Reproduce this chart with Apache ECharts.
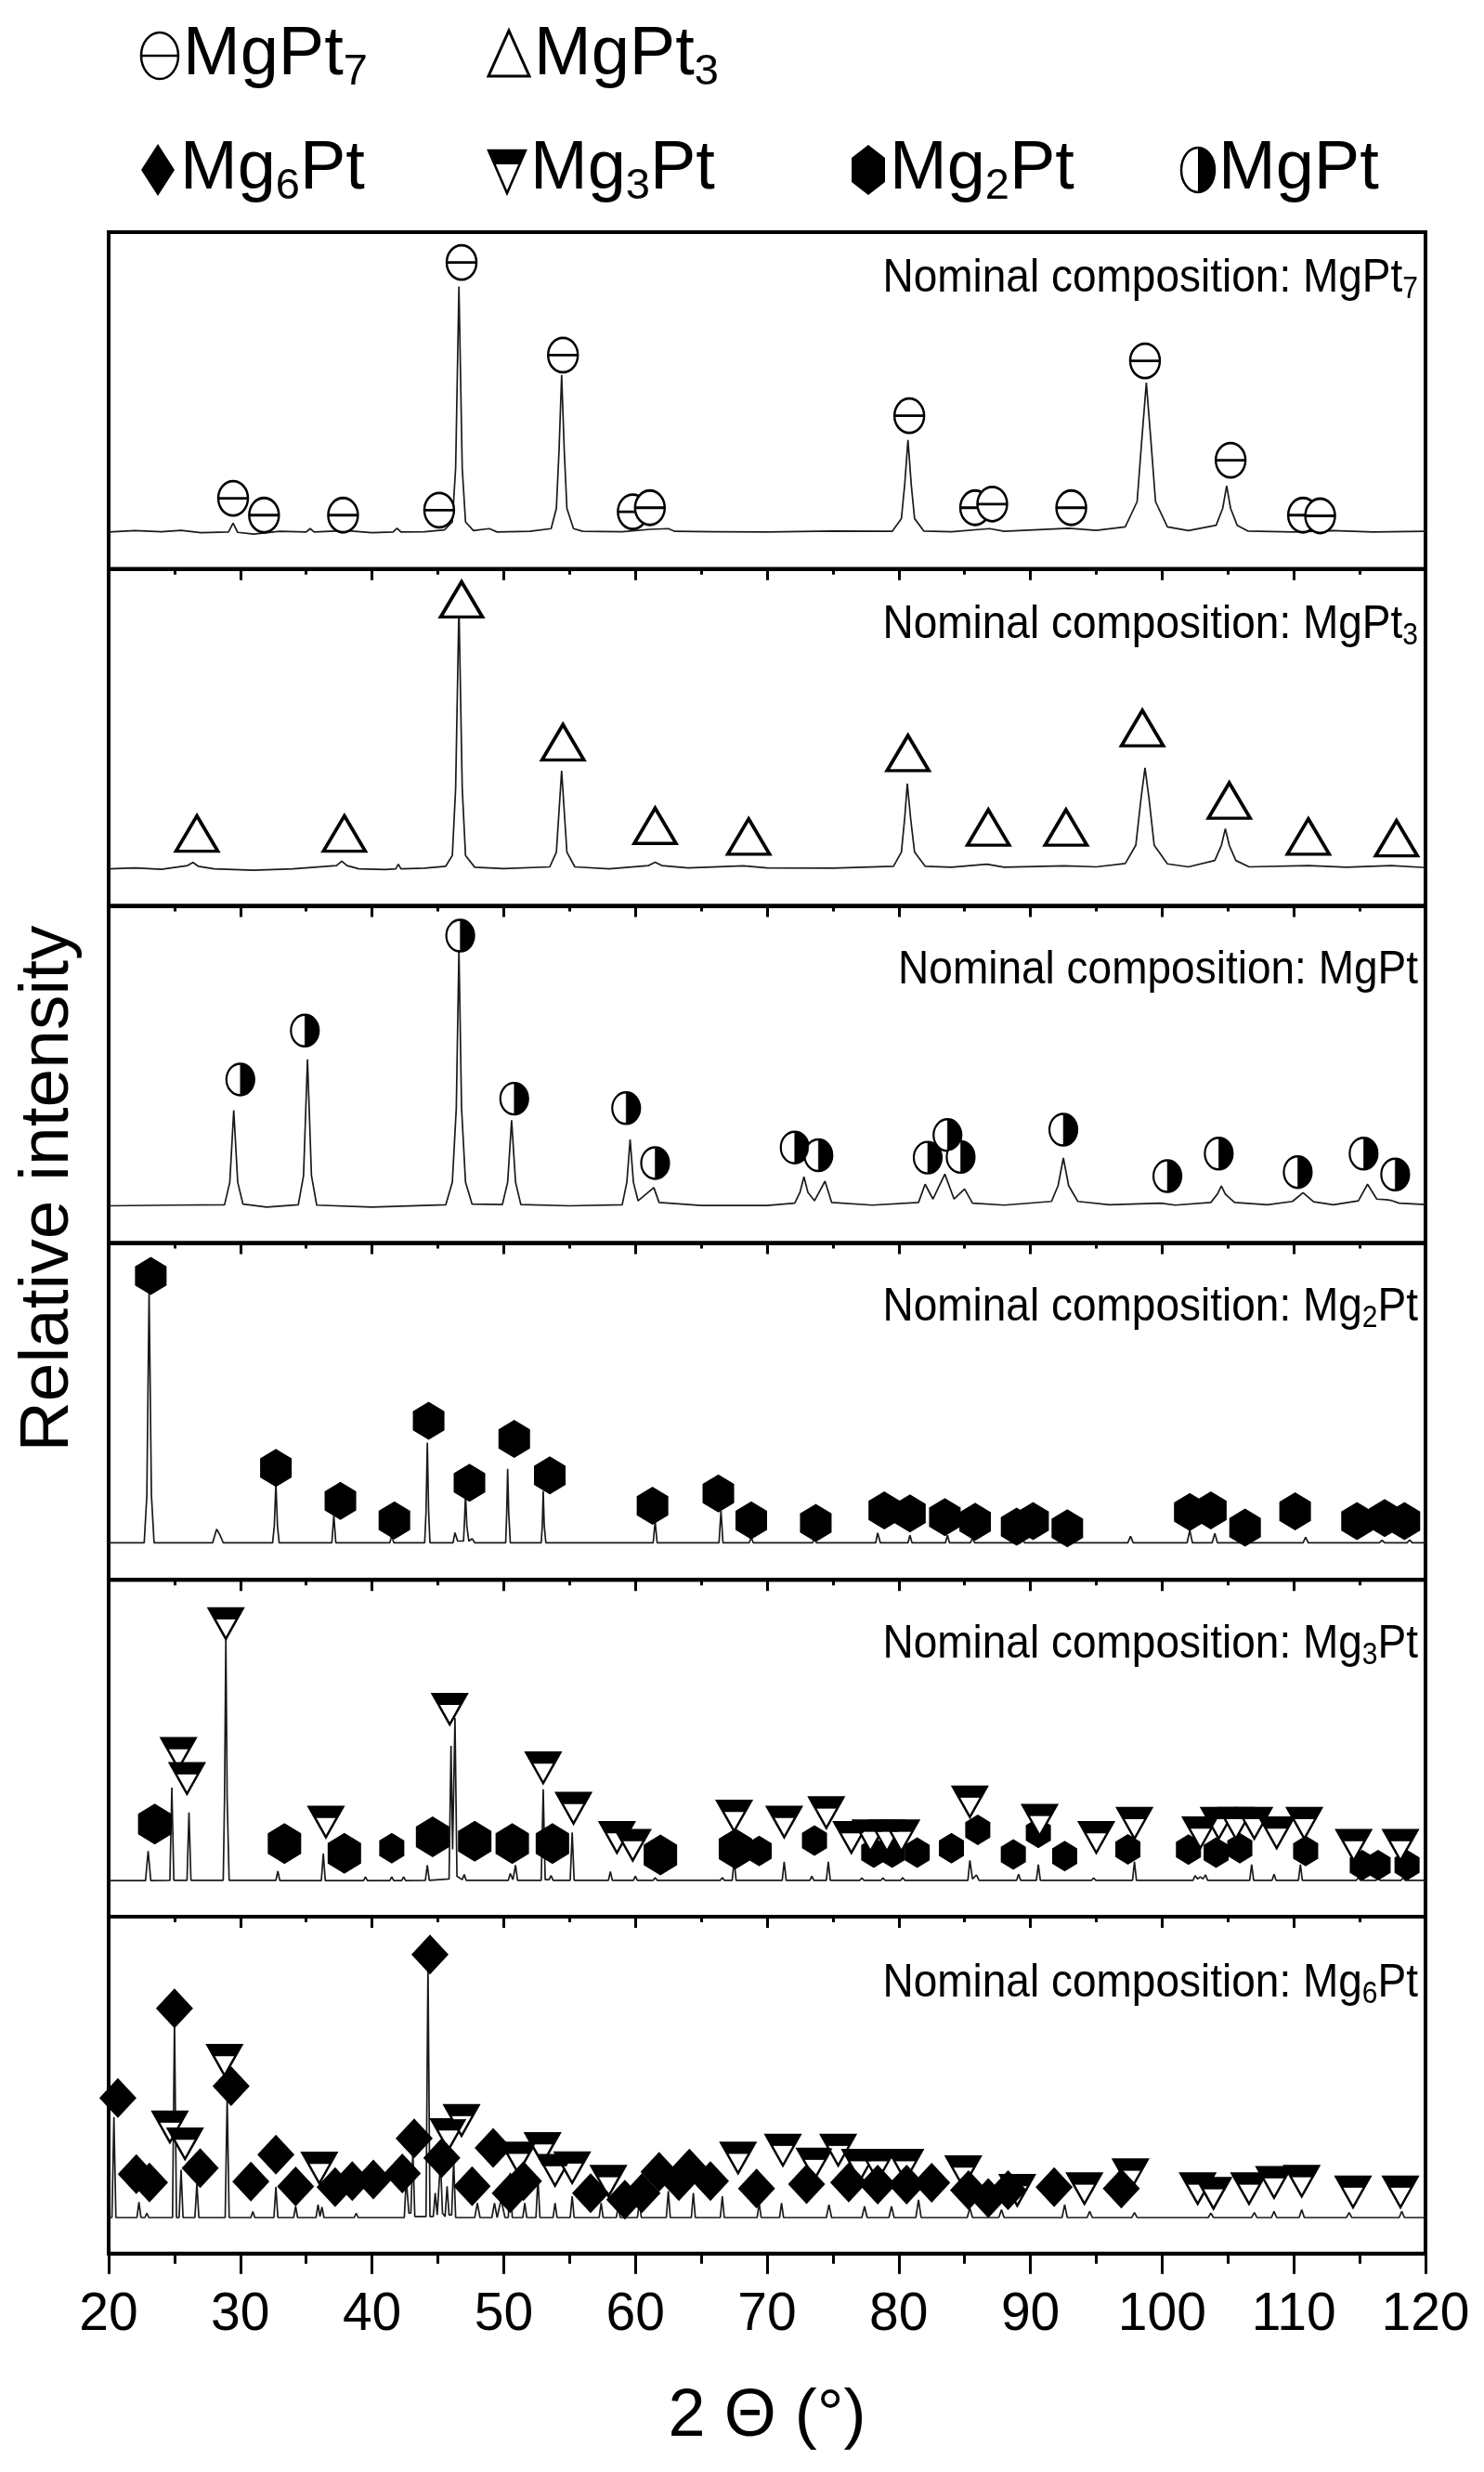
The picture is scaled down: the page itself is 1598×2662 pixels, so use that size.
<!DOCTYPE html>
<html><head><meta charset="utf-8">
<script src="https://cdn.jsdelivr.net/npm/echarts@6/dist/echarts.min.js"></script>
<style>html,body{margin:0;padding:0;background:#fff}#c{width:1598px;height:2662px}</style>
</head><body><div id="c"></div>
<script>
// ---------- tick labels ----------
const xTickLabels = [20, 30, 40, 50, 60, 70, 80, 90, 100, 110, 120];

// ---------- measured XRD profiles: [2theta, relative intensity %] ----------
const patternMgPt7 = [[20,11],[22,11.4],[24,11.1],[25.5,11.5],[27,10.8],[29.1,11],[29.45,13.6],[29.8,10.9],[31,10.4],[33,11.2],[35,11],[35.3,12],[35.6,11],[38,11.4],[40,10.8],[41.6,11],[41.9,12.1],[42.2,11],[44,11.1],[45.5,11.6],[46.1,14],[46.35,30],[46.6,83.9],[46.85,30],[47.1,14],[47.7,11.4],[48.9,12],[49.5,11],[52,11.2],[53.6,12],[54.0,18],[54.2,35],[54.4,57.6],[54.6,35],[54.8,18],[55.3,12],[56,11.2],[59,11.1],[61.1,11.8],[62.5,12],[63,11.2],[66,11.1],[70,11],[75,11.3],[79.5,11.2],[80.2,15],[80.45,25],[80.7,38.3],[80.95,25],[81.2,15],[81.9,11.3],[84,11.1],[86.9,12],[88,11.2],[92.9,12.1],[95,11.5],[97.2,12.5],[98.1,20],[98.45,38],[98.8,55.3],[99.15,38],[99.5,20],[100.4,12.5],[102,11.4],[104.1,13],[104.6,18],[104.9,24.7],[105.2,18],[105.7,13],[106.5,11.3],[110,11],[113,11.4],[116,11],[120,11.2]];
const patternMgPt3 = [[20,11],[22,11.3],[24,10.9],[26,12],[26.4,12.9],[26.8,11.8],[28,11],[31,10.6],[34,11],[37.3,12],[37.7,13.3],[38.1,12],[39,11],[41,10.8],[41.8,11],[42.0,12.4],[42.2,11],[44,11.2],[45.6,11.8],[46.1,15],[46.35,35],[46.6,89.1],[46.85,35],[47.1,15],[47.8,11.5],[50,11.1],[53.5,11.6],[54.0,16],[54.2,28],[54.4,40.1],[54.6,28],[54.8,16],[55.4,11.6],[58,11],[61.0,12],[61.5,13],[62,12],[64,11.3],[68.2,11.9],[70,11.3],[75,11.2],[79.6,11.8],[80.2,16],[80.45,26],[80.65,36.3],[80.9,26],[81.2,16],[82,11.8],[84,11.5],[86.7,12.4],[88,11.5],[92.6,11.9],[95,11.6],[97.2,12.6],[98.0,18],[98.4,32],[98.7,41],[99.0,32],[99.4,18],[100.4,12.5],[102,11.6],[104.0,13.5],[104.5,18],[104.8,22.9],[105.1,18],[105.6,13.5],[106.6,11.6],[111.1,12],[114,11.5],[117.4,12],[120,11.4]];
const patternMgPt = [[20,11],[25,11.2],[28.8,11.3],[29.2,18],[29.5,39.4],[29.8,18],[30.2,11.5],[32,10.6],[34.4,11.3],[34.8,20],[35.1,54.5],[35.4,20],[35.8,11.2],[40,10.6],[45.6,11.3],[46.1,18],[46.4,40],[46.6,87.1],[46.8,40],[47.1,18],[47.6,11.5],[49.9,11.4],[50.3,18],[50.6,36.4],[50.9,18],[51.3,11.4],[55,11],[59,11.3],[59.35,18],[59.6,30.7],[59.85,18],[60.2,12.5],[61.4,16.4],[61.8,12],[65,11.1],[70,11.1],[72.1,11.8],[72.5,15],[72.8,19.6],[73.1,15],[73.6,12.5],[74.4,18.3],[74.9,12],[78,11.2],[81.5,12],[82.0,17.4],[82.6,13],[83.5,20.4],[84.2,13],[85.0,16],[85.6,11.8],[88,11.2],[91.6,12.3],[92.1,17],[92.5,25.2],[92.9,17],[93.6,12.3],[96,11.3],[99.9,11.8],[101,11.2],[103.7,12],[104.2,14.5],[104.5,16.9],[104.8,14.5],[105.5,12],[108,11.3],[109.9,12.3],[110.7,14.9],[111.5,12.2],[113,11.3],[114.9,12.5],[115.6,17.4],[116.3,13],[117.0,12.8],[117.4,12.6],[118,11.8],[120,11.4]];
const patternMg2Pt = [[20,11],[22.7,11],[22.9,25],[23.07,85.7],[23.25,25],[23.45,11],[27.9,11],[28.2,15],[28.45,13.3],[28.7,11],[32.45,11],[32.58,16],[32.7,28.7],[32.82,16],[32.95,11],[36.95,11],[37.1,19.1],[37.25,11],[41.35,11],[41.5,13.1],[41.65,11],[44.0,11],[44.1,20],[44.2,40.7],[44.3,20],[44.4,11],[46.15,11],[46.3,14],[46.5,11.5],[46.95,11.5],[47.03,18],[47.1,25.5],[47.2,16],[47.35,11.5],[47.6,12.2],[47.8,11],[50.15,11],[50.23,20],[50.3,32.9],[50.38,20],[50.5,11],[52.85,11],[52.93,16],[53.0,26.4],[53.08,16],[53.2,11],[61.35,11],[61.5,17.3],[61.65,11],[66.35,11],[66.5,20.5],[66.65,11],[68.65,11],[68.8,12.6],[68.95,11],[73.45,11],[73.6,12.2],[73.75,11],[78.25,11],[78.4,13.9],[78.6,11],[80.7,11],[80.85,13.2],[81.0,11],[83.55,11],[83.7,13.2],[83.85,11],[85.45,11],[85.6,12.5],[85.75,11],[89.25,11],[89.4,12],[89.55,11],[97.4,11],[97.6,12.9],[97.8,11],[101.9,11],[102.1,14.7],[102.3,11],[103.8,11],[104.0,13.8],[104.2,11],[110.7,11],[110.9,12.6],[111.1,11],[116.5,11],[116.7,11.7],[116.9,11],[118.6,11],[118.8,11.8],[119,11],[120,11]];
const patternMg3Pt = [[20,10.7],[22.8,10.7],[23.0,19.5],[23.2,10.7],[24.65,10.8],[24.8,38.3],[24.95,10.8],[25.95,10.8],[26.1,30.9],[26.25,10.8],[28.7,10.8],[28.8,35],[28.9,83.3],[29.0,35],[29.15,10.8],[32.7,10.8],[32.85,13.5],[33.0,10.7],[36.15,10.7],[36.3,18.7],[36.45,10.7],[39.35,10.7],[39.5,11.8],[39.65,10.7],[41.35,10.7],[41.5,11.8],[41.65,10.7],[42.25,10.7],[42.4,11.8],[42.55,10.7],[44.05,10.8],[44.2,15.3],[44.35,10.8],[45.85,11.2],[46.0,50.7],[46.12,20],[46.3,59.0],[46.45,12],[46.85,11],[47.0,12.5],[47.15,10.8],[50.35,10.8],[50.5,12.8],[50.7,11],[50.9,15.3],[51.05,10.8],[52.85,10.8],[53.0,37.8],[53.15,11],[53.45,11],[53.6,12.2],[53.75,10.8],[55.05,10.8],[55.2,25],[55.35,10.8],[57.95,10.8],[58.1,13.4],[58.25,10.8],[59.85,10.8],[60.0,12],[60.15,10.8],[61.35,10.8],[61.5,11.6],[61.65,10.8],[66.45,10.8],[66.6,11.6],[66.75,10.8],[67.35,10.8],[67.5,16.7],[67.65,10.8],[71.15,10.8],[71.3,16.3],[71.45,10.8],[73.25,10.8],[73.4,12],[73.55,10.8],[74.5,10.8],[74.65,16.3],[74.8,10.8],[77.05,10.8],[77.2,11.5],[77.35,10.8],[78.65,10.8],[78.8,11.5],[78.95,10.8],[80.15,10.8],[80.3,11.6],[80.45,10.8],[85.25,10.8],[85.4,16.7],[85.6,11.2],[85.9,12.4],[86.1,10.8],[88.95,10.8],[89.1,12.6],[89.25,10.8],[90.45,10.8],[90.6,15.5],[90.75,10.8],[94.65,10.8],[94.8,11.5],[94.95,10.8],[97.75,10.8],[97.9,16.3],[98.05,10.8],[102.35,10.8],[102.5,12.2],[102.7,11.2],[102.9,11.8],[103.1,11.2],[103.3,12.4],[103.45,10.8],[106.65,10.8],[106.8,15.5],[106.95,10.8],[108.35,10.8],[108.5,12.6],[108.65,10.8],[110.35,10.8],[110.5,15.5],[110.65,10.8],[114.75,10.8],[114.9,11.6],[115.05,10.8],[116.25,10.8],[116.4,11.6],[116.55,10.8],[118.15,10.8],[118.3,11.6],[118.45,10.8],[120,10.8]];
const patternMg6Pt = [[20,10.7],[20.25,10.7],[20.4,40.5],[20.55,10.7],[22.15,10.7],[22.3,15.3],[22.45,10.7],[22.75,10.7],[22.9,12],[23.05,10.7],[24.85,10.7],[25.0,69.9],[25.15,10.7],[25.35,10.7],[25.5,24.9],[25.65,10.7],[26.55,10.7],[26.7,20.8],[26.85,10.7],[28.85,10.7],[29.0,46.5],[29.15,10.7],[30.8,10.7],[30.95,12.5],[31.1,10.7],[32.55,10.7],[32.7,19.8],[32.85,10.7],[34.05,10.7],[34.2,14],[34.35,10.7],[35.75,10.7],[35.9,14.5],[36.05,11],[36.2,13.8],[36.35,10.7],[38.65,10.7],[38.8,12],[38.95,10.7],[42.45,10.7],[42.6,22.1],[42.8,12],[42.95,12],[43.1,30.4],[43.25,11],[44.1,11],[44.25,86],[44.4,11],[44.65,11],[44.8,18],[44.95,11.5],[45.05,12],[45.2,27.6],[45.35,12],[45.55,11],[45.7,20],[45.85,11.5],[46.05,11.5],[46.2,27.6],[46.35,10.7],[47.8,10.7],[48.0,15],[48.2,10.7],[49.1,10.7],[49.3,15],[49.5,10.7],[49.8,16],[50.1,10.7],[50.35,10.7],[50.5,24],[50.65,10.7],[51.45,10.7],[51.6,15],[51.75,10.7],[52.45,10.7],[52.6,22.5],[52.75,10.7],[53.75,10.7],[53.9,15],[54.05,10.7],[55.05,10.7],[55.2,17],[55.35,10.7],[57.25,10.7],[57.4,15],[57.55,10.7],[58.55,10.7],[58.7,14],[58.85,10.7],[60.15,10.7],[60.3,15],[60.45,10.7],[62.35,10.7],[62.5,18.5],[62.65,10.7],[64.25,10.7],[64.4,18],[64.55,10.7],[66.45,10.7],[66.6,17],[66.75,10.7],[69.25,10.7],[69.4,15],[69.55,10.7],[70.95,10.7],[71.1,15],[71.25,10.7],[74.5,10.7],[74.7,14.5],[74.9,10.7],[77.2,10.7],[77.4,14],[77.6,10.7],[79.25,10.7],[79.45,14],[79.65,10.7],[81.3,10.7],[81.5,16],[81.7,10.7],[85.2,10.7],[85.4,13.5],[85.6,10.7],[87.6,10.7],[87.8,13],[88,10.7],[92.4,10.7],[92.6,14.5],[92.8,10.7],[94.3,10.7],[94.5,12.5],[94.7,10.7],[97.7,10.7],[97.9,12.2],[98.1,10.7],[103.5,10.7],[103.7,12],[103.9,10.7],[106.8,10.7],[107.0,12.2],[107.2,10.7],[108.3,10.7],[108.5,12.5],[108.7,10.7],[110.4,10.7],[110.6,13],[110.8,10.7],[114.0,10.7],[114.2,12.2],[114.4,10.7],[118.0,10.7],[118.2,12.5],[118.4,10.7],[120,10.7]];

// ---------- phase markers: [2theta, marker height %] ----------
const markMgPt7_inMgPt7 = [[29.45,21],[31.8,16],[37.8,16],[45.1,17.5],[46.8,91],[54.5,63.5],[59.8,17],[61.1,18.2],[80.8,45.5],[85.8,18.2],[87.1,19.3],[93.1,18.2],[98.7,61.8],[105.2,32.3],[110.7,16],[112.0,15.8]];
const markMgPt3_inMgPt3 = [[26.7,21.5],[37.9,21.5],[46.8,91],[54.5,48.6],[61.5,23.8],[68.6,20.6],[80.7,45.4],[86.8,23.3],[92.7,23.3],[98.5,52.8],[105.1,31.3],[111.1,20.6],[117.8,20.1]];
const markMgPt_inMgPt = [[30.0,48.5],[34.9,63.0],[46.7,91.2],[50.8,42.8],[59.3,40.0],[61.5,23.7],[72.1,28.3],[73.9,26.0],[82.2,25.3],[83.7,32.0],[84.7,25.5],[92.5,33.6],[100.4,19.8],[104.3,26.5],[110.3,21.0],[115.3,26.5],[117.7,20.3]];
const markMg2Pt_inMg2Pt = [[23.2,90.2],[32.7,33.2],[37.6,23.4],[41.7,17.6],[44.3,47.2],[47.4,28.8],[50.8,41.8],[53.5,31.0],[61.3,22.0],[66.3,25.6],[68.8,17.6],[73.7,16.9],[78.9,20.6],[80.85,19.7],[83.5,18.6],[85.8,17.2],[88.95,15.8],[90.2,17.4],[92.8,15.3],[102.1,20.1],[103.7,20.6],[106.3,15.5],[110.1,20.3],[114.8,17.4],[116.9,18.3],[118.4,17.4]];
const markMg2PtLarge_inMg3Pt = [[23.5,27.5],[33.35,21.7],[37.9,18.8],[44.6,23.7],[47.8,22.4],[50.65,21.7],[53.7,21.7],[61.9,18.3],[67.6,20.1]];
const markMg2PtSmall_inMg3Pt = [[41.5,20.3],[69.4,19.5],[73.6,22.6],[78.1,19],[79.5,19],[81.4,19],[84.0,20.3],[86.0,25.8],[88.7,18.5],[90.6,24.9],[92.6,18.0],[97.4,20.0],[102.0,19.9],[104.1,19],[105.9,20.3],[110.9,19.5],[115.2,15.3],[116.4,15.3],[118.6,15.3]];
const markMg3Pt_inMg3Pt = [[25.3,48.5],[25.95,41.0],[28.9,87.0],[36.5,28.1],[45.9,61.6],[53.0,44.2],[55.3,32.2],[58.6,23.5],[59.8,21.2],[67.5,29.9],[71.3,28.1],[74.5,30.9],[76.4,23.5],[77.85,24],[79.1,24],[80.2,24],[85.4,34.1],[90.7,28.6],[95.0,23.5],[97.9,27.7],[102.9,24.9],[104.3,27.7],[105.6,27.7],[107.0,27.7],[108.7,24.9],[110.8,27.7],[114.55,21.2],[118.1,21.2]];
const markMg3Pt_inMg6Pt = [[24.65,37.6],[25.8,32.6],[28.8,57.4],[36.0,25.4],[45.8,35.3],[46.8,39.5],[51.1,28.4],[52.95,31.2],[53.9,24.7],[55.2,25.5],[57.95,21.5],[67.8,28.4],[71.2,30.7],[73.6,26.6],[75.4,30.7],[77.05,26.2],[78.4,26.2],[80.5,26.2],[84.9,24.3],[89.0,18.8],[94.1,19.3],[97.6,23.4],[102.7,19.3],[103.9,17.9],[106.6,19.3],[108.5,21.1],[110.6,21.5],[114.5,18.3],[118.1,18.3]];
const markMg6Pt_inMg6Pt = [[20.7,46.2],[22.1,23.6],[23.1,21.1],[25.0,72.8],[26.95,25.4],[29.3,49.7],[30.8,21.4],[32.7,29.4],[34.2,19.9],[37.2,19.7],[38.5,21.5],[40.1,22.0],[42.3,23.8],[43.2,34.2],[44.4,88.8],[45.3,28.4],[47.6,20.0],[49.2,31.4],[50.5,17.9],[51.5,21.5],[56.6,17.9],[59.2,16.0],[60.5,17.9],[61.8,24.3],[63.3,21.5],[64.1,25.2],[65.7,21.5],[69.2,19.3],[73.0,20.6],[76.2,21.1],[78.4,20.5],[80.6,20.5],[82.5,21.0],[85.3,18.8],[86.8,16.5],[88.3,18.8],[91.8,19.7],[96.9,19.3]];

// ---------- panel captions ----------
const panelCaptions = [
  '{n|Nominal composition: MgPt}{s|7}',
  '{n|Nominal composition: MgPt}{s|3}',
  '{n|Nominal composition: MgPt}',
  '{n|Nominal composition: Mg}{s|2}{n|Pt}',
  '{n|Nominal composition: Mg}{s|3}{n|Pt}',
  '{n|Nominal composition: Mg}{s|6}{n|Pt}'
];
const patterns = [patternMgPt7, patternMgPt3, patternMgPt, patternMg2Pt, patternMg3Pt, patternMg6Pt];

// ---------- layout ----------
const FONT = "'Liberation Sans', Arial, Helvetica, sans-serif";
const LEFT = 117, RIGHT_X = 1535, TOP = 250, PH = 362.8;
const nP = 6;

// symbol paths
const P_THETA = 'path://M0,-18A16,18 0 1,1 0,18A16,18 0 1,1 0,-18ZM-16,0L16,0';
const P_HALF_R = 'path://M0,-1A1,1 0 0,1 0,1Z';
const P_HEX = 'path://M0,-1L0.866,-0.5L0.866,0.5L0,1L-0.866,0.5L-0.866,-0.5Z';
const P_DTRI = 'path://M-1,0L1,0L0,1.6Z';
const P_DTRI_TOP = 'path://M-1,0L1,0L0.64,0.58L-0.64,0.58Z';

function sc(data, gi, symbol, size, fill, stroke, bw, offset, z) {
  return {
    type: 'scatter', xAxisIndex: gi, yAxisIndex: gi, data: data,
    symbol: symbol, symbolSize: size, symbolOffset: offset || [0, 0],
    itemStyle: { color: fill, borderColor: stroke || fill, borderWidth: bw || 0, opacity: 1 },
    z: z || 5, silent: true, animation: false
  };
}
function thetaMarks(d, gi) { return [sc(d, gi, P_THETA, [32, 37], '#fff', '#000', 2.6)]; }
function triMarks(d, gi) { return [sc(d, gi, 'triangle', [45, 38], '#fff', '#000', 3.6)]; }
function halfMarks(d, gi) {
  const w = 30, h = 34;
  return [sc(d, gi, 'circle', [w, h], '#fff', '#000', 2.3),
          sc(d, gi, P_HALF_R, [w / 2, h], '#000', '#000', 0.5, [w / 4, 0], 6)];
}
function hexMarks(d, gi, size) { return [sc(d, gi, P_HEX, size, '#000', '#000', 0)]; }
function diaMarks(d, gi) { return [sc(d, gi, 'diamond', [40, 43], '#000', '#000', 0, null, 7)]; }
function dtriMarks(d, gi, z) {
  const w = 37, h = 33, bh = h * 0.36;
  return [sc(d, gi, P_DTRI, [w, h], '#fff', '#000', 2.4, null, z || 6),
          sc(d, gi, P_DTRI_TOP, [w, bh], '#000', '#000', 0.8, [0, -(h / 2 - bh / 2)], (z || 6) + 0.5)];
}

const grids = [], xAxes = [], yAxes = [], series = [];
for (let i = 0; i < nP; i++) {
  const last = i === nP - 1;
  grids.push({ left: LEFT, width: RIGHT_X - LEFT, top: TOP + i * PH, height: PH,
    show: true, borderColor: '#000', borderWidth: 4, backgroundColor: 'rgba(0,0,0,0)' });
  xAxes.push({
    gridIndex: i, type: 'value', min: xTickLabels[0], max: xTickLabels[xTickLabels.length - 1], interval: 10,
    axisLine: { show: true, onZero: false, lineStyle: { color: '#000', width: 4 } },
    axisTick: { show: true, inside: false, length: last ? 22 : 12, lineStyle: { color: '#000', width: 3 } },
    minorTick: { show: true, splitNumber: 2, length: last ? 11 : 6, lineStyle: { color: '#000', width: 3 } },
    splitLine: { show: false }, minorSplitLine: { show: false },
    axisLabel: { show: last, fontSize: 57, color: '#000', margin: 38, fontFamily: FONT },
    name: last ? '2 \u0398 (\u00B0)' : '', nameLocation: 'middle', nameGap: 140,
    nameTextStyle: { fontSize: 72, color: '#000', fontFamily: FONT }
  });
  yAxes.push({ gridIndex: i, type: 'value', min: 0, max: 100, show: false });
  series.push({ type: 'line', xAxisIndex: i, yAxisIndex: i, data: patterns[i], showSymbol: false,
    lineStyle: { color: '#1a1a1a', width: 1.7 }, z: 2, silent: true, animation: false });
}
series.push(...thetaMarks(markMgPt7_inMgPt7, 0));
series.push(...triMarks(markMgPt3_inMgPt3, 1));
series.push(...halfMarks(markMgPt_inMgPt, 2));
series.push(...hexMarks(markMg2Pt_inMg2Pt, 3, [34, 41]));
series.push(...hexMarks(markMg2PtLarge_inMg3Pt, 4, [36, 44]));
series.push(...hexMarks(markMg2PtSmall_inMg3Pt, 4, [27, 33]));
series.push(...dtriMarks(markMg3Pt_inMg3Pt, 4, 6));
series.push(...dtriMarks(markMg3Pt_inMg6Pt, 5, 5));
series.push(...diaMarks(markMg6Pt_inMg6Pt, 5));

// ---------- graphics: captions, legend, y title ----------
const graphics = [];
const capOffsets = [50, 60, 70, 70, 70, 72];
panelCaptions.forEach((t, i) => {
  graphics.push({ type: 'text', x: 1527, y: TOP + i * PH + capOffsets[i], z: 20, scaleY: 1.08, originY: 0,
    style: { text: t, align: 'right', verticalAlign: 'middle', fill: '#000',
      rich: { n: { fontSize: 46, fontFamily: FONT, fill: '#000' },
              s: { fontSize: 30, fontFamily: FONT, fill: '#000', padding: [22, 0, 0, 0] } } } });
});
graphics.push({ type: 'text', x: 52, y: 1280, rotation: Math.PI / 2, z: 20,
  style: { text: 'Relative intensity', fontSize: 75, fontFamily: FONT, fill: '#000', align: 'center', verticalAlign: 'middle' } });

const LF = 74;
const legRich = { n: { fontSize: LF, fontFamily: FONT, fill: '#000' },
                  s: { fontSize: 47, fontFamily: FONT, fill: '#000', padding: [36, 0, 0, 0] } };
function legText(x, y, t) {
  return { type: 'text', x: x, y: y, z: 20, style: { text: t, align: 'left', verticalAlign: 'middle', rich: legRich } };
}
const Y1 = 60, Y2 = 183;
// MgPt7
graphics.push({ type: 'group', x: 172, y: Y1, children: [
  { type: 'ellipse', shape: { cx: 0, cy: 0, rx: 20, ry: 25 }, style: { fill: '#fff', stroke: '#000', lineWidth: 2.5 } },
  { type: 'line', shape: { x1: -20, y1: 0, x2: 20, y2: 0 }, style: { stroke: '#000', lineWidth: 2.5 } } ] });
graphics.push(legText(197, Y1, '{n|MgPt}{s|7}'));
// MgPt3
graphics.push({ type: 'polygon', shape: { points: [[548, Y1 - 27], [570, Y1 + 22], [526, Y1 + 22]] },
  style: { fill: '#fff', stroke: '#000', lineWidth: 3 } });
graphics.push(legText(575, Y1, '{n|MgPt}{s|3}'));
// Mg6Pt
graphics.push({ type: 'polygon', shape: { points: [[170, Y2 - 28], [188, Y2], [170, Y2 + 28], [152, Y2]] }, style: { fill: '#000' } });
graphics.push(legText(194, Y2, '{n|Mg}{s|6}{n|Pt}'));
// Mg3Pt
graphics.push({ type: 'polygon', shape: { points: [[526, Y2 - 21], [566, Y2 - 21], [546, Y2 + 25]] },
  style: { fill: '#fff', stroke: '#000', lineWidth: 2.5 } });
graphics.push({ type: 'polygon', shape: { points: [[526, Y2 - 21], [566, Y2 - 21], [559.5, Y2 - 6], [532.5, Y2 - 6]] }, style: { fill: '#000' } });
graphics.push(legText(571, Y2, '{n|Mg}{s|3}{n|Pt}'));
// Mg2Pt
graphics.push({ type: 'polygon', shape: { points: [[935, Y2 - 27], [953, Y2 - 13], [953, Y2 + 13], [935, Y2 + 27], [917, Y2 + 13], [917, Y2 - 13]] }, style: { fill: '#000' } });
graphics.push(legText(958, Y2, '{n|Mg}{s|2}{n|Pt}'));
// MgPt
graphics.push({ type: 'group', x: 1290, y: Y2, children: [
  { type: 'ellipse', shape: { cx: 0, cy: 0, rx: 18, ry: 24 }, style: { fill: '#fff', stroke: '#000', lineWidth: 2.5 } },
  { type: 'sector', scaleY: 24 / 18, shape: { cx: 0, cy: 0, r: 18, r0: 0, startAngle: -Math.PI / 2, endAngle: Math.PI / 2, clockwise: true }, style: { fill: '#000' } } ] });
graphics.push(legText(1312, Y2, '{n|MgPt}'));

const chart = echarts.init(document.getElementById('c'), null, { renderer: 'canvas' });
chart.setOption({
  backgroundColor: '#fff', animation: false,
  grid: grids, xAxis: xAxes, yAxis: yAxes, series: series, graphic: graphics,
  textStyle: { fontFamily: FONT }
});
</script>
</body></html>
